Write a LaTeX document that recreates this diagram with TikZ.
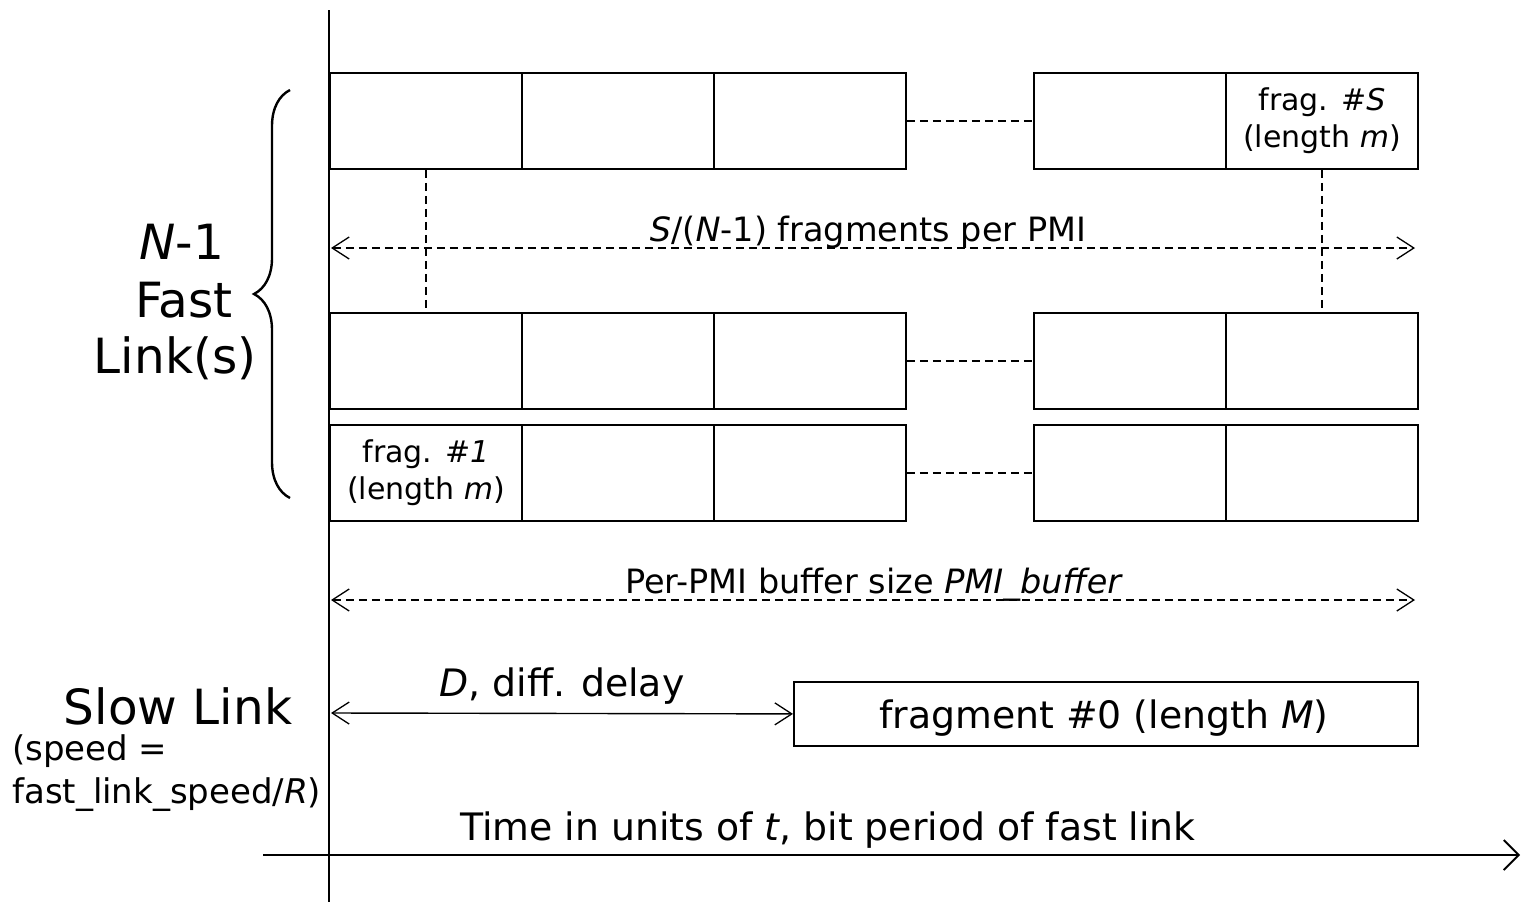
\documentclass[tikz,border=0pt]{standalone}
\usepackage{fontspec}
\setmainfont{DejaVu Sans}
\usetikzlibrary{arrows.meta,decorations.pathreplacing}
\tikzset{vb/.tip={Straight Barb[length=17pt,width=22pt,line width=1.3pt]},
  vbig/.tip={Straight Barb[length=15pt,width=30pt,line width=1.8pt]}}
\begin{document}
\begin{tikzpicture}[x=1pt,y=-1pt,
  cell/.style={draw,line width=1.8pt,minimum width=192pt,minimum height=96pt,inner sep=0pt,anchor=north west},
  dsh/.style={line width=1.4pt,dash pattern=on 8pt off 5pt},
  axis/.style={line width=1.8pt},
  small/.style={font=\fontsize{30}{37}\selectfont,inner sep=0pt},
  mid/.style={font=\fontsize{33.5}{40}\selectfont,inner sep=0pt,anchor=base},
  big/.style={font=\fontsize{37.8}{44}\selectfont,inner sep=0pt,anchor=base},
  huge/.style={font=\fontsize{48.5}{57}\selectfont,inner sep=0pt,anchor=base},
  side/.style={font=\fontsize{34}{43}\selectfont,inner sep=0pt,anchor=base west}]
\useasboundingbox (0,0) rectangle (1522,902);
% axes
\coordinate (vtop) at (329,10);
\coordinate (vbot) at (329,902);
\coordinate (hl) at (263,855);
\coordinate (hr) at (1520,855);
\draw[axis] (vtop) -- (vbot);
\draw[axis,-vbig] (hl) -- (hr);
% row 1
\node[cell] (a1) at (329,72) {};
\node[cell] (a2) at (521,72) {};
\node[cell] (a3) at (713,72) {};
\node[cell] (a4) at (1033,72) {};
\node[cell,small,align=center] (a5) at (1225,72) {frag. \#\textit{S}\\(length \textit{m})};
% row 2
\node[cell] (b1) at (329,312) {};
\node[cell] (b2) at (521,312) {};
\node[cell] (b3) at (713,312) {};
\node[cell] (b4) at (1033,312) {};
\node[cell] (b5) at (1225,312) {};
% row 3
\node[cell,small,align=center] (c1) at (329,424) {frag. \#\textit{1}\\(length \textit{m})};
\node[cell] (c2) at (521,424) {};
\node[cell] (c3) at (713,424) {};
\node[cell] (c4) at (1033,424) {};
\node[cell] (c5) at (1225,424) {};
% dashed gaps
\draw[dsh] (a3.east) -- (a4.west);
\draw[dsh] (b3.east) -- (b4.west);
\draw[dsh] (c3.east) -- (c4.west);
\draw[dsh] (a1.south) -- (b1.north);
\draw[dsh] (a5.south) -- (b5.north);
% dashed arrows
\coordinate (s1) at (331,248);
\coordinate (e1) at (1415,248);
\draw[dsh,vb-vb] (s1) -- (e1);
\node[mid] (l1) at (868,241) {\textit{S}/(\textit{N}-1) fragments per PMI};
\coordinate (s2) at (331,600);
\coordinate (e2) at (1415,600);
\draw[dsh,vb-vb] (s2) -- (e2);
\node[mid] (l2) at (874,593) {Per-PMI buffer size \textit{PMI\_buffer}};
% slow link
\node[draw,line width=1.8pt,minimum width=624pt,minimum height=64pt,inner sep=0pt,anchor=north west] (f0) at (793,681) {};
\node[big] (f0t) at (1104,728) {fragment \#0 (length \textit{M})};
\coordinate (s3) at (331,713);
\draw[line width=1.4pt,vb-vb] (s3) -- (f0.west);
\node[big] (l3) at (562,696) {\textit{D}, diff. delay};
\node[big] (l4) at (828,840) {Time in units of \textit{t}, bit period of fast link};
% left labels
\node[huge] (n1) at (182,259) {\textit{N}-1};
\node[huge] (n2) at (184,317) {Fast};
\node[huge] (n3) at (175,373) {Link(s)};
\draw[decorate,decoration={brace,amplitude=36pt},line width=2.4pt] (290,498) -- (290,90);
\node[huge] (sl) at (178,724) {Slow Link};
\node[side] (sp1) at (12,760) {(speed =};
\node[side] (sp2) at (12,803) {fast\_link\_speed/\textit{R})};
\end{tikzpicture}
\end{document}
